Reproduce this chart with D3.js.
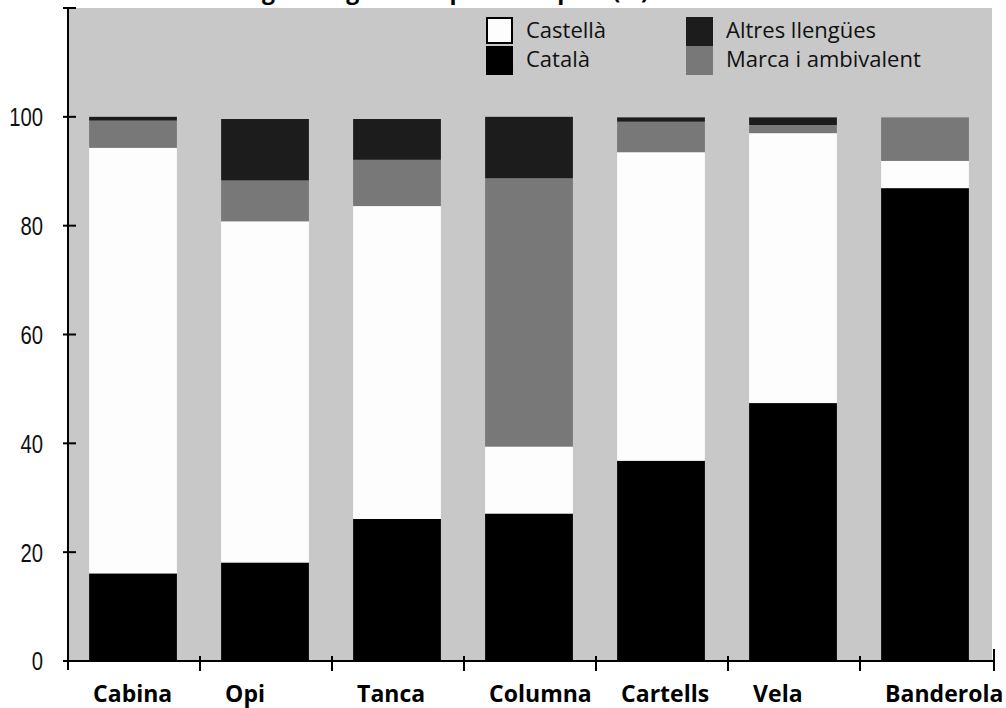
<!DOCTYPE html>
<html>
<head>
<meta charset="utf-8">
<script src="https://cdn.jsdelivr.net/npm/d3@7"></script>
<style>
  html, body { margin: 0; padding: 0; background: #ffffff; }
  svg { display: block; }
</style>
</head>
<body>
<svg id="chart" width="1006" height="708"></svg>
<script>
// Support types (x categories)
const categories = ["Cabina", "Opi", "Tanca", "Columna", "Cartells", "Vela", "Banderola"];

// Percentage of each language use per support type
const catala   = [16.1, 18.1, 26.1, 27.1, 36.8, 47.4, 86.9];
const castella = [78.2, 62.7, 57.5, 12.3, 56.7, 49.6, 5.0];
const marca    = [5.0, 7.5, 8.5, 49.3, 5.6, 1.5, 8.0];
const altres   = [0.7, 11.3, 7.5, 11.3, 0.8, 1.4, 0.0];

// Y axis tick values
const yTicks = [0, 20, 40, 60, 80, 100];

// Series, bottom to top of each stack
const seriesKeys = ["Català", "Castellà", "Marca i ambivalent", "Altres llengües"];
const seriesValues = [catala, castella, marca, altres];
const colors = {
  "Català": "#000000",
  "Castellà": "#fdfdfd",
  "Marca i ambivalent": "#787878",
  "Altres llengües": "#1c1c1c"
};

const rows = categories.map((c, i) => {
  const r = { cat: c };
  seriesKeys.forEach((k, j) => { r[k] = seriesValues[j][i]; });
  return r;
});

const svg = d3.select("#chart");
const axisX = 68, axisY = 661, plotRight = 992, plotTop = 8;

const x = d3.scaleBand().domain(categories).range([axisX, plotRight]).padding(0);
const y = d3.scaleLinear().domain([0, 120]).range([axisY, plotTop]);

// Plot background
svg.append("rect")
  .attr("x", x.range()[0]).attr("y", y(120))
  .attr("width", x.range()[1] - x.range()[0])
  .attr("height", y(0) - y(120))
  .attr("fill", "#c8c8c8");

// Title running off the top edge of the page
svg.append("text")
  .attr("x", 12).attr("y", -1)
  .attr("font-family", "'Open Sans', sans-serif")
  .attr("font-weight", "bold")
  .attr("font-size", 23)
  .attr("fill", "#000")
  .text("Gràfic 3. Ús de les llengües segons el tipus de suport (%)");

// Stacked bars
const stack = d3.stack().keys(seriesKeys);
const stacked = stack(rows);
const barOffset = x.bandwidth() * 0.16;
const barWidth = x.bandwidth() * 0.665;

svg.append("g").selectAll("g")
  .data(stacked)
  .join("g")
  .attr("fill", d => colors[d.key])
  .selectAll("rect")
  .data(d => d.filter(s => s[1] - s[0] > 0))
  .join("rect")
  .attr("x", d => x(d.data.cat) + barOffset)
  .attr("width", barWidth)
  .attr("y", d => y(d[1]))
  .attr("height", d => y(d[0]) - y(d[1]));

// Y axis
const yAxis = svg.append("g");
yAxis.append("line")
  .attr("x1", axisX).attr("x2", axisX)
  .attr("y1", y(120)).attr("y2", axisY + 9)
  .attr("stroke", "#000").attr("stroke-width", 2);
yAxis.selectAll("line.tick")
  .data(yTicks.concat([120]))
  .join("line")
  .attr("class", "tick")
  .attr("x1", axisX - 5).attr("x2", axisX + 8)
  .attr("y1", d => y(d)).attr("y2", d => y(d))
  .attr("stroke", "#000").attr("stroke-width", 2);
yAxis.selectAll("text")
  .data(yTicks)
  .join("text")
  .attr("transform", d => `translate(${axisX - 25},${y(d)}) scale(0.78,1)`)
  .attr("dy", "0.36em")
  .attr("text-anchor", "end")
  .attr("font-family", "'Liberation Sans', Arial, sans-serif")
  .attr("font-size", 26)
  .attr("fill", "#111")
  .text(d => d);

// X axis with ticks at band boundaries
const xAxis = svg.append("g");
const bounds = categories.map(c => x(c)).concat([x.range()[1] + 2]);
xAxis.append("line")
  .attr("x1", axisX - 5).attr("x2", bounds[bounds.length - 1])
  .attr("y1", axisY).attr("y2", axisY)
  .attr("stroke", "#000").attr("stroke-width", 2);
xAxis.selectAll("line.tick")
  .data(bounds.slice(1))
  .join("line")
  .attr("class", "tick")
  .attr("x1", d => d).attr("x2", d => d)
  .attr("y1", (d, i) => i === bounds.length - 2 ? axisY - 12 : axisY - 5)
  .attr("y2", axisY + 10)
  .attr("stroke", "#000").attr("stroke-width", 2);
xAxis.selectAll("text")
  .data(categories)
  .join("text")
  .attr("x", d => x(d) + barOffset + 4)
  .attr("y", 702)
  .attr("font-family", "'Open Sans', sans-serif")
  .attr("font-weight", "bold")
  .attr("font-size", 23)
  .attr("fill", "#000")
  .text(d => d);

// Legend: two columns, two rows
const legendItems = [
  { key: "Castellà", col: 0, row: 0 },
  { key: "Català", col: 0, row: 1 },
  { key: "Altres llengües", col: 1, row: 0 },
  { key: "Marca i ambivalent", col: 1, row: 1 }
];
const legendX = [486, 686], legendY = 17, swatch = 27, rowH = 29;
const legend = svg.append("g");
legendItems.forEach(it => {
  const lx = legendX[it.col], ly = legendY + it.row * rowH;
  const outlined = it.key === "Castellà";
  legend.append("rect")
    .attr("x", lx + (outlined ? 1 : 0))
    .attr("y", ly + (outlined ? 1 : 0))
    .attr("width", swatch - (outlined ? 2 : 0))
    .attr("height", outlined ? rowH - 4 : rowH)
    .attr("fill", colors[it.key])
    .attr("stroke", outlined ? "#000" : "none")
    .attr("stroke-width", 2);
  legend.append("text")
    .attr("x", lx + swatch + 13)
    .attr("y", ly + 21)
    .attr("font-family", "'Open Sans', sans-serif")
    .attr("font-size", 22)
    .attr("fill", "#111")
    .text(it.key);
});
</script>
</body>
</html>
